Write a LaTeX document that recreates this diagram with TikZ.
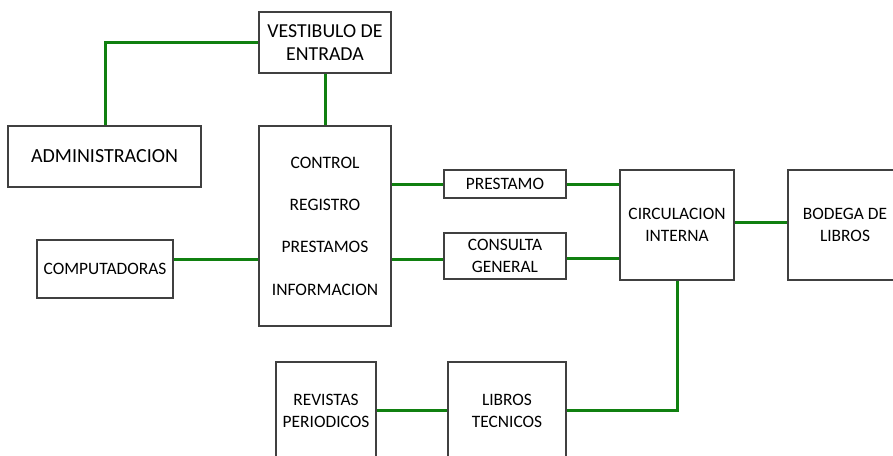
\documentclass[tikz,border=0pt]{standalone}
\usepackage{fontspec}
\setmainfont{Carlito}
\definecolor{linkgreen}{RGB}{16,128,16}
\definecolor{boxgray}{RGB}{64,64,64}
\begin{document}
\begin{tikzpicture}[x=1pt,y=-1pt,
  box/.style={draw=boxgray,line width=1.5pt,rectangle,inner sep=0pt,align=center,
    font=\fontsize{17.4}{22}\selectfont,text=black},
  link/.style={draw=linkgreen,line width=3pt}]
\useasboundingbox (0,0) rectangle (893,455);
\clip (0,0) rectangle (893,455);
\fill[white] (0,0) rectangle (893,455);
\node[box,minimum width=132pt,minimum height=61pt,font=\fontsize{19.8}{23}\selectfont] (vest) at (325,42.5) {VESTIBULO DE\\ENTRADA};
\node[box,minimum width=193pt,minimum height=61pt,font=\fontsize{20}{22}\selectfont] (admin) at (104.5,156.5) {ADMINISTRACION};
\node[box,minimum width=132pt,minimum height=200pt,font=\fontsize{17.5}{42.3}\selectfont] (ctrl) at (325,226) {CONTROL\\REGISTRO\\PRESTAMOS\\INFORMACION};
\node[box,minimum width=122pt,minimum height=28pt] (prest) at (505,184) {PRESTAMO};
\node[box,minimum width=122pt,minimum height=46pt] (cons) at (505,256) {CONSULTA\\GENERAL};
\node[box,minimum width=114pt,minimum height=110pt] (circ) at (677,225) {CIRCULACION\\INTERNA};
\node[box,minimum width=114pt,minimum height=110pt] (bod) at (845,225) {BODEGA DE\\LIBROS};
\node[box,minimum width=136pt,minimum height=58pt] (comp) at (105,269) {COMPUTADORAS};
\node[box,minimum width=100pt,minimum height=98pt] (rev) at (326,411) {REVISTAS\\PERIODICOS};
\node[box,minimum width=118pt,minimum height=98pt] (lib) at (507,411) {LIBROS\\TECNICOS};
\coordinate (a1) at (105,42.5);
\coordinate (c1) at (677,410);
\draw[link] (vest.west) -- (a1) -- (admin.north -| a1);
\draw[link] (vest.south) -- (ctrl.north);
\draw[link] (ctrl.east |- prest.west) -- (prest.west);
\draw[link] (ctrl.east |- 0,259) -- (cons.west |- 0,259);
\draw[link] (comp.east |- 0,259) -- (ctrl.west |- 0,259);
\draw[link] (prest.east) -- (circ.west |- prest.east);
\draw[link] (cons.east |- 0,258) -- (circ.west |- 0,258);
\draw[link] (circ.east |- 0,222.5) -- (bod.west |- 0,222.5);
\draw[link] (circ.south) -- (c1) -- (lib.east |- c1);
\draw[link] (rev.east |- 0,410) -- (lib.west |- 0,410);
\end{tikzpicture}
\end{document}
